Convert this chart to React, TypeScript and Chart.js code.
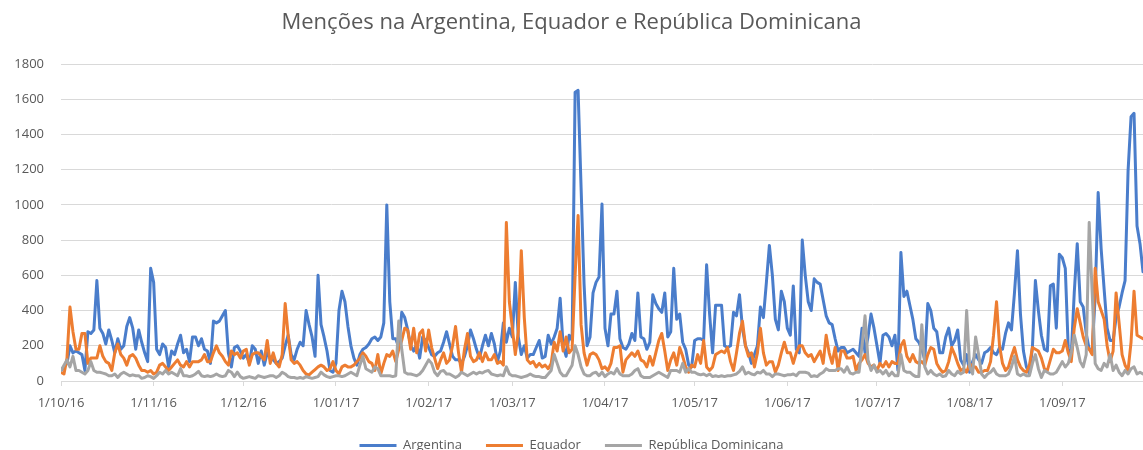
import { useEffect, useRef } from "react";
import { Chart, registerables } from "chart.js";

Chart.register(...registerables);

// Daily values, day 0 = 1/10/16
const argentina = [
  60, 80, 100, 200, 160, 170, 160, 150, 60, 280,
  270, 290, 570, 300, 270, 210, 290, 230, 160, 240,
  180, 200, 310, 360, 300, 180, 290, 220, 160, 110,
  640, 560, 180, 150, 210, 190, 80, 170, 150, 210,
  260, 160, 180, 110, 250, 250, 200, 240, 180, 170,
  100, 340, 330, 340, 370, 400, 160, 80, 190, 200,
  170, 130, 150, 100, 200, 180, 100, 170, 90, 160,
  130, 120, 100, 110, 130, 200, 260, 150, 120, 180,
  220, 200, 400, 320, 250, 140, 600, 320, 250, 170,
  60, 50, 100, 400, 510, 450, 310, 200, 130, 90,
  150, 180, 190, 210, 240, 250, 230, 250, 330, 1000,
  450, 240, 240, 190, 390, 360, 290, 200, 170, 210,
  130, 250, 230, 190, 150, 140, 160, 170, 220, 280,
  210, 140, 120, 120, 100, 140, 200, 290, 240, 180,
  130, 200, 260, 200, 270, 210, 110, 170, 330, 220,
  300, 250, 560, 250, 150, 200, 130, 150, 150, 190,
  230, 130, 140, 260, 210, 250, 300, 470, 200, 140,
  260, 230, 1640, 1650, 1100, 550, 200, 250, 500, 560,
  590, 1005, 300, 200, 380, 380, 510, 240, 190, 180,
  210, 270, 230, 500, 250, 240, 180, 220, 490, 440,
  410, 390, 500, 250, 280, 640, 350, 380, 220, 180,
  90, 80, 230, 240, 240, 230, 660, 380, 160, 430,
  430, 430, 200, 190, 200, 390, 370, 490, 300, 200,
  160, 100, 150, 200, 420, 360, 560, 770, 600, 350,
  290, 510, 450, 300, 260, 540, 180, 160, 800, 600,
  450, 400, 580, 560, 550, 460, 370, 330, 320, 240,
  170, 190, 190, 160, 170, 180, 160, 140, 300, 160,
  250, 380, 300, 200, 100, 260, 270, 250, 200, 260,
  60, 730, 480, 510, 430, 350, 240, 220, 180, 120,
  440, 400, 300, 280, 160, 160, 250, 300, 200, 230,
  290, 120, 90, 150, 50, 110, 150, 120, 100, 160,
  170, 190, 160, 150, 190, 180, 270, 330, 290, 500,
  740, 380, 170, 80, 40, 190, 570, 400, 260, 180,
  170, 540, 550, 300, 720, 700, 640, 180, 150, 500,
  780, 450, 420, 270, 180, 170, 480, 1070, 750, 520,
  300, 230, 230, 360, 420, 500, 570, 1190, 1500, 1520,
  880, 780, 620,
];

const equador = [
  50, 40, 130, 420, 280, 180, 180, 270, 270, 100,
  130, 130, 130, 200, 140, 110, 100, 60, 160, 210,
  150, 130, 90, 140, 150, 130, 90, 60, 60, 50,
  60, 40, 50, 90, 100, 80, 60, 80, 100, 120,
  90, 80, 110, 80, 110, 110, 110, 120, 150, 110,
  110, 160, 200, 160, 140, 110, 90, 170, 150, 160,
  130, 170, 180, 90, 150, 160, 160, 140, 120, 230,
  100, 160, 100, 80, 150, 440, 260, 120, 100, 110,
  90, 60, 40, 35, 50, 65, 80, 90, 80, 60,
  70, 110, 60, 40, 80, 90, 80, 80, 90, 110,
  130, 160, 140, 110, 100, 60, 150, 40, 100, 150,
  140, 170, 110, 180, 230, 300, 290, 180, 300, 160,
  270, 290, 170, 290, 190, 130, 70, 120, 160, 100,
  120, 200, 310, 160, 50, 180, 270, 140, 110, 120,
  160, 110, 160, 120, 120, 150, 100, 110, 90, 900,
  450, 300, 150, 280, 740, 360, 120, 100, 110, 80,
  100, 80, 90, 70, 100, 220, 170, 280, 170, 250,
  160, 180, 600, 940, 320, 160, 90, 150, 160, 150,
  120, 70, 80, 60, 100, 190, 190, 200, 50, 120,
  140, 160, 140, 170, 120, 110, 80, 140, 90, 160,
  230, 270, 170, 60, 120, 160, 90, 190, 140, 80,
  50, 90, 80, 150, 100, 230, 80, 60, 80, 150,
  160, 170, 160, 190, 110, 60, 160, 270, 340, 200,
  140, 160, 80, 160, 300, 160, 90, 110, 110, 50,
  90, 160, 220, 160, 160, 100, 160, 200, 200, 160,
  140, 150, 110, 140, 170, 100, 260, 160, 100, 190,
  60, 170, 170, 130, 130, 140, 60, 100, 120, 150,
  100, 80, 90, 60, 100, 80, 110, 80, 110, 100,
  100, 200, 230, 140, 110, 150, 110, 100, 110, 90,
  150, 190, 180, 100, 70, 50, 60, 110, 190, 150,
  100, 60, 70, 50, 100, 80, 80, 50, 50, 60,
  60, 110, 260, 450, 200, 100, 60, 80, 140, 190,
  120, 80, 60, 50, 90, 190, 180, 170, 130, 70,
  60, 120, 180, 160, 160, 170, 230, 160, 110, 300,
  410, 330, 250, 200, 180, 150, 640, 450, 400, 350,
  200, 110, 170, 500, 330, 150, 90, 60, 220, 510,
  260, 250, 240,
];

const republicaDominicana = [
  60, 90, 120, 80, 140, 60, 60, 50, 40, 60,
  110, 60, 50, 50, 45, 40, 30, 30, 40, 20,
  40, 50, 40, 30, 35, 30, 30, 15, 20, 30,
  25, 15, 30, 50, 40, 60, 40, 50, 40, 30,
  70, 30, 30, 25, 30, 40, 55, 30, 25, 30,
  25, 30, 40, 30, 25, 30, 60, 50, 25, 50,
  25, 15, 20, 25, 20, 15, 30, 25, 20, 25,
  30, 30, 20, 30, 50, 40, 25, 20, 20, 15,
  20, 15, 25, 20, 15, 20, 25, 50, 35, 25,
  20, 25, 30, 30, 25, 30, 40, 50, 40, 30,
  90, 140, 70, 60, 50, 80, 70, 30, 30, 30,
  30, 25, 30, 340, 180, 50, 40, 40, 35, 30,
  40, 60, 90, 120, 100, 50, 30, 55, 60, 40,
  40, 30, 20, 30, 50, 40, 30, 40, 50, 40,
  50, 45, 55, 60, 40, 35, 30, 35, 30, 80,
  40, 30, 30, 25, 20, 25, 30, 40, 30, 25,
  25, 20, 20, 40, 60, 150, 100, 50, 30, 30,
  60, 90, 200, 150, 80, 40, 30, 30, 45, 50,
  30, 50, 25, 40, 50, 40, 70, 40, 30, 30,
  30, 40, 60, 70, 30, 20, 20, 20, 30, 40,
  50, 40, 30, 20, 60, 60, 60, 50, 100, 50,
  70, 50, 50, 40, 35, 40, 30, 40, 25, 30,
  25, 30, 25, 30, 30, 35, 40, 55, 80, 40,
  50, 40, 35, 50, 45, 60, 40, 40, 25, 40,
  40, 35, 30, 35, 35, 40, 30, 50, 50, 50,
  45, 25, 30, 25, 40, 50, 70, 60, 60, 60,
  70, 70, 50, 80, 45, 40, 50, 50, 200, 370,
  120, 60, 90, 50, 60, 40, 60, 30, 50, 30,
  30, 150, 60, 50, 50, 35, 25, 25, 320, 80,
  40, 60, 40, 30, 40, 25, 30, 60, 40, 30,
  55, 40, 50, 400, 80, 40, 250, 150, 40, 20,
  40, 50, 70, 40, 30, 30, 30, 40, 80, 140,
  40, 30, 40, 30, 30, 100, 150, 70, 20, 60,
  50, 40, 40, 50, 80, 110, 80, 100, 160, 260,
  190, 110, 80, 150, 900, 500, 100, 70, 60, 100,
  80, 150, 60, 90, 50, 30, 60, 40, 70, 80,
  40, 50, 40,
];

const seriesNames = ["Argentina", "Equador", "República Dominicana"];
const seriesColors = ["#4A7DCB", "#ED7D31", "#A5A5A5"];
const monthTickDays = [0, 31, 61, 92, 123, 151, 182, 212, 243, 273, 304, 335];
const monthTickLabels = [
  "1/10/16", "1/11/16", "1/12/16", "1/01/17", "1/02/17", "1/03/17",
  "1/04/17", "1/05/17", "1/06/17", "1/07/17", "1/08/17", "1/09/17",
];
const chartTitle = "Menções na Argentina, Equador e República Dominicana";

const FONT = "'Open Sans', 'Noto Sans', sans-serif";
const TEXT = "#595959";
const GRID = "#D9D9D9";
const CANVAS_H = 462;

export default function App() {
  const ref = useRef<HTMLCanvasElement>(null);

  useEffect(() => {
    if (!ref.current) return;
    const series = [argentina, equador, republicaDominicana];
    const chart = new Chart(ref.current, {
      type: "line",
      data: {
        datasets: series.map((arr, i) => ({
          label: seriesNames[i],
          data: arr.map((y, x) => ({ x, y })),
          borderColor: seriesColors[i],
          backgroundColor: seriesColors[i],
          borderWidth: 3,
          pointRadius: 0,
          pointHoverRadius: 0,
          borderCapStyle: "round" as const,
          borderJoinStyle: "round" as const,
          tension: 0,
          order: 3 - i,
        })),
      },
      options: {
        responsive: false,
        animation: false,
        layout: { padding: 0 },
        plugins: {
          title: {
            display: true,
            text: chartTitle,
            color: TEXT,
            font: { family: FONT, size: 22, weight: "normal" },
            padding: { top: 10, bottom: 27.6 },
          },
          legend: {
            position: "bottom",
            labels: {
              usePointStyle: true,
              pointStyle: "line",
              pointStyleWidth: 37,
              color: TEXT,
              font: { family: FONT, size: 13 },
              padding: 24,
              sort: (a: any, b: any) => a.datasetIndex - b.datasetIndex,
            },
          },
          tooltip: { enabled: false },
        },
        scales: {
          x: {
            type: "linear",
            min: 0,
            max: argentina.length - 1,
            afterBuildTicks: (scale: any) => {
              scale.ticks = monthTickDays.map((v) => ({ value: v }));
            },
            afterFit: (scale: any) => {
              const lg = scale.chart.legend;
              scale.height = scale.chart.height - 381 - (lg ? lg.height : 0);
            },
            ticks: {
              autoSkip: false,
              maxRotation: 0,
              color: TEXT,
              font: { family: FONT, size: 13 },
              padding: 9,
              callback: (v: any) => {
                const idx = monthTickDays.indexOf(Number(v));
                return idx >= 0 ? monthTickLabels[idx] : "";
              },
            },
            grid: {
              drawOnChartArea: false,
              drawTicks: true,
              tickLength: 5,
              color: GRID,
            },
            border: { display: true, color: GRID },
          },
          y: {
            min: 0,
            max: 1800,
            afterFit: (scale: any) => {
              scale.width = 61;
            },
            ticks: {
              stepSize: 200,
              color: TEXT,
              font: { family: FONT, size: 13 },
              padding: 17,
              callback: (v: any) => String(v),
            },
            grid: { color: GRID, drawTicks: false },
            border: { display: false },
          },
        },
      },
    });
    return () => chart.destroy();
  }, []);

  return (
    <div
      style={{
        position: "absolute",
        left: 0,
        top: 0,
        width: 1143,
        height: 450,
        overflow: "hidden",
        background: "#fff",
      }}
    >
      <canvas ref={ref} width={1143} height={CANVAS_H} style={{ display: "block" }} />
    </div>
  );
}
